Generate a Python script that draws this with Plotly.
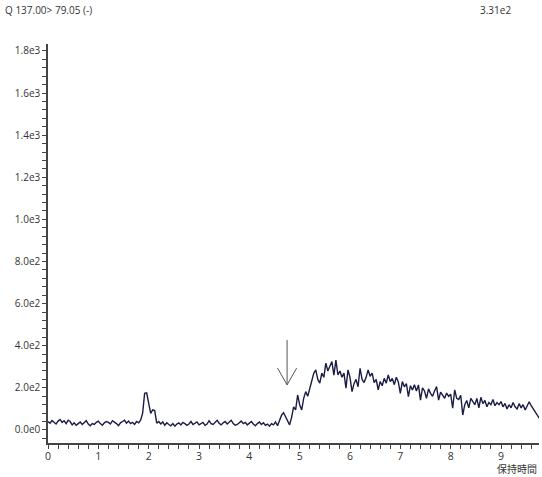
import plotly.graph_objects as go

# retention time grid (min) and intensity values
time_start = 0.0
time_step = 0.04
intensity = [
    40, 32, 45, 38, 28, 42, 50, 36, 44, 30, 46, 40, 24, 34, 22, 30, 38, 26, 36, 44, 28, 20, 30, 26, 36,
    42, 30, 22, 34, 40, 36, 28, 44, 38, 30, 20, 34, 40, 46, 32, 42, 30, 36, 26, 40, 34, 46, 80, 174, 176,
    128, 79, 95, 92, 32, 40, 28, 38, 22, 34, 26, 20, 30, 18, 28, 34, 24, 36, 30, 22, 28, 40, 26, 32, 38,
    24, 30, 36, 22, 28, 44, 30, 26, 38, 46, 32, 24, 34, 40, 28, 36, 46, 30, 22, 26, 34, 42, 30, 36, 24,
    34, 40, 28, 20, 30, 38, 26, 34, 22, 28, 18, 30, 24, 38, 20, 44, 70, 82, 64, 48, 24, 60, 110, 95, 166,
    120, 95, 150, 182, 160, 199, 230, 269, 285, 240, 222, 270, 250, 317, 280, 300, 325, 260, 332, 261, 280, 250, 270, 198, 285,
    250, 182, 220, 240, 205, 293, 240, 225, 250, 285, 255, 270, 225, 240, 190, 230, 210, 245, 222, 261, 230, 245, 215, 250, 228,
    174, 230, 205, 220, 158, 210, 190, 215, 185, 214, 142, 200, 185, 150, 195, 174, 160, 185, 206, 142, 180, 165, 150, 175, 160,
    170, 103, 190, 150, 145, 165, 71, 120, 140, 105, 150, 134, 120, 150, 105, 155, 125, 140, 110, 130, 120, 145, 115, 130, 120,
    135, 110, 126, 100, 120, 105, 130, 110, 100, 125, 105, 120, 95, 112, 134, 115, 100, 85, 70, 56,
]
retention = [round(time_start + i * time_step, 4) for i in range(len(intensity))]

y_tickvals = [0, 200, 400, 600, 800, 1000, 1200, 1400, 1600, 1800]
y_ticktext = ["0.0e0", "2.0e2", "4.0e2", "6.0e2", "8.0e2", "1.0e3", "1.2e3", "1.4e3", "1.6e3", "1.8e3"]
x_tickvals = [0, 1, 2, 3, 4, 5, 6, 7, 8, 9]

title_left = "Q 137.00> 79.05 (-)"
title_right = "3.31e2"
x_title = "保持時間"

arrow_x = 4.75
arrow_top = 427
arrow_tip = 214

FONT = "Open Sans, Noto Sans CJK JP, sans-serif"
AX = "#444444"

fig = go.Figure()
fig.add_trace(go.Scatter(
    x=retention, y=intensity, mode="lines",
    line=dict(color="#1b1c45", width=1.4, shape="linear"),
    hoverinfo="skip", showlegend=False,
))

# arrow marker
fig.add_shape(type="line", xref="x", yref="y", x0=arrow_x, x1=arrow_x, y0=arrow_top, y1=arrow_tip,
              line=dict(color="#555555", width=1))
fig.add_shape(type="line", xref="x", yref="y", x0=arrow_x - 0.19, x1=arrow_x, y0=arrow_tip + 80, y1=arrow_tip,
              line=dict(color="#555555", width=1))
fig.add_shape(type="line", xref="x", yref="y", x0=arrow_x + 0.19, x1=arrow_x, y0=arrow_tip + 80, y1=arrow_tip,
              line=dict(color="#555555", width=1))

fig.update_layout(
    width=542, height=477,
    margin=dict(l=48, r=3, t=44, b=34),
    paper_bgcolor="white", plot_bgcolor="white",
    font=dict(family=FONT, size=10, color="#333333"),
    showlegend=False,
)
fig.update_xaxes(
    range=[0, 9.755], tickvals=x_tickvals, ticks="outside", ticklen=3, tickwidth=1, tickcolor=AX,
    showline=True, linecolor=AX, linewidth=1.5, showgrid=False, zeroline=False,
    tickfont=dict(size=10.5, color="#333333"),
    minor=dict(dtick=0.2, ticks="outside", ticklen=4, tickcolor=AX, showgrid=False),
)
fig.update_yaxes(
    range=[-62, 1833], tickvals=y_tickvals, ticktext=y_ticktext, ticks="outside", ticklen=4, tickwidth=1,
    tickcolor=AX, showline=True, linecolor=AX, linewidth=1.5, showgrid=False, zeroline=False,
    tickfont=dict(size=10, color="#333333"),
    minor=dict(dtick=40, ticks="outside", ticklen=4, tickcolor=AX, showgrid=False),
)

fig.add_annotation(text=title_left, xref="paper", yref="paper", x=-0.0917, y=1.085,
                   xanchor="left", yanchor="middle", showarrow=False, font=dict(size=10, color="#333333"))
fig.add_annotation(text=title_right, xref="paper", yref="paper", x=0.947, y=1.085,
                   xanchor="right", yanchor="middle", showarrow=False, font=dict(size=10, color="#333333"))
fig.add_annotation(text=x_title, xref="paper", yref="paper", x=1.0, y=-0.066,
                   xanchor="right", yanchor="middle", showarrow=False, font=dict(size=10, color="#333333"))

fig.write_html("out.html")
